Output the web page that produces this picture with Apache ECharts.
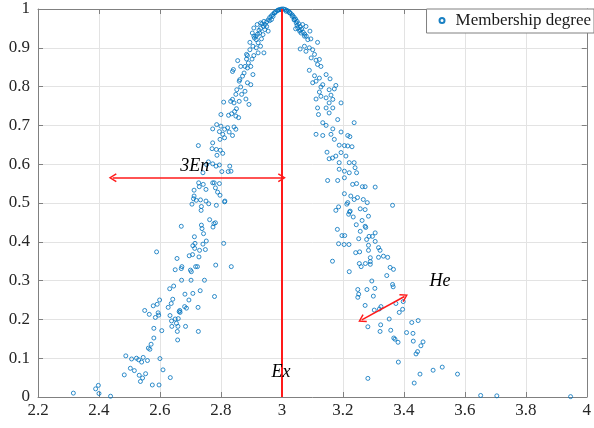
<!DOCTYPE html>
<html>
<head>
<meta charset="utf-8">
<script src="https://cdn.jsdelivr.net/npm/echarts@6/dist/echarts.min.js"></script>
<style>
  html, body { margin: 0; padding: 0; background: #fff; }
  #chart { width: 594px; height: 428px; }
</style>
</head>
<body>
<div id="chart"></div>
<script>
// cloud drops, [x, membership degree]
const lowerLeft = [
  [2.316,0.010],[2.389,0.021],[2.398,0.030],[2.400,0.009],[2.438,0.002],[2.483,0.057],
  [2.488,0.106],[2.503,0.074],[2.507,0.098],[2.516,0.068],[2.523,0.100],[2.530,0.096],
  [2.532,0.056],[2.536,0.040],[2.540,0.090],[2.543,0.049],[2.545,0.102],[2.553,0.060],
  [2.559,0.094],[2.562,0.126],[2.567,0.123],[2.571,0.136],[2.575,0.031],[2.580,0.152],
  [2.580,0.177],[2.550,0.223],[2.565,0.213],[2.578,0.235],[2.585,0.205],[2.589,0.374],
  [2.591,0.239],[2.594,0.217],[2.596,0.211],[2.597,0.031],[2.599,0.250],[2.600,0.099],
  [2.606,0.171],[2.610,0.070],[2.627,0.231],[2.632,0.279],[2.633,0.210],[2.634,0.050],
  [2.637,0.241],[2.638,0.196],[2.639,0.182],[2.642,0.252],[2.645,0.286],[2.650,0.328],
  [2.650,0.201],[2.654,0.190],[2.656,0.357],[2.657,0.169],[2.658,0.147],[2.659,0.182],
  [2.660,0.202],[2.663,0.220],[2.665,0.223],[2.666,0.218],[2.670,0.440],[2.670,0.331],
  [2.671,0.301],[2.672,0.336],[2.681,0.233],[2.682,0.265],[2.684,0.182],[2.687,0.229],
  [2.695,0.250],[2.696,0.364],[2.700,0.327],[2.702,0.301],[2.703,0.323],[2.705,0.497],
  [2.707,0.367],[2.708,0.390],[2.708,0.267],[2.713,0.413],[2.714,0.383],[2.715,0.396],
  [2.717,0.336],[2.719,0.507],[2.723,0.336],[2.725,0.231],[2.726,0.169],[2.728,0.361],
  [2.730,0.378],[2.732,0.274],[2.735,0.481],[2.736,0.491],[2.736,0.443],[2.738,0.434],
  [2.741,0.394],[2.743,0.421],[2.746,0.301],[2.749,0.380],[2.752,0.402],[2.760,0.498],
  [2.763,0.457],[2.774,0.438],[2.777,0.447],[2.782,0.449],[2.783,0.340],[2.779,0.259],
  [2.785,0.494],[2.809,0.396],[2.812,0.503],[2.834,0.336]
];

const upperLeft = [
  [2.726,0.648],[2.727,0.552],[2.712,0.533],[2.712,0.518],[2.729,0.542],[2.742,0.548],
  [2.751,0.535],[2.773,0.552],[2.778,0.552],[2.795,0.550],[2.782,0.539],[2.789,0.528],
  [2.797,0.520],[2.813,0.505],[2.710,0.511],[2.733,0.508],[2.751,0.505],[2.741,0.578],
  [2.753,0.599],[2.759,0.606],[2.773,0.601],[2.784,0.595],[2.795,0.598],[2.803,0.581],
  [2.824,0.581],[2.829,0.595],[2.833,0.582],[2.787,0.623],[2.798,0.636],[2.806,0.628],
  [2.773,0.655],[2.785,0.638],[2.771,0.640],[2.797,0.664],[2.812,0.668],[2.795,0.684],
  [2.806,0.677],[2.822,0.694],[2.827,0.683],[2.838,0.674],[2.843,0.696],[2.849,0.690],
  [2.786,0.702],[2.800,0.698],[2.812,0.690],[2.773,0.691],[2.800,0.728],[2.825,0.726],
  [2.835,0.730],[2.845,0.736],[2.849,0.724],[2.851,0.743],[2.858,0.720],[2.809,0.760],
  [2.832,0.762],[2.838,0.767],[2.843,0.758],[2.860,0.762],[2.892,0.754],[2.882,0.768],
  [2.868,0.780],[2.849,0.780],[2.852,0.792],[2.865,0.799],[2.879,0.788],[2.887,0.810],
  [2.898,0.805],[2.860,0.814],[2.862,0.818],[2.871,0.827],[2.876,0.835],[2.838,0.839],
  [2.841,0.844],[2.887,0.848],[2.898,0.852],[2.905,0.831],[2.879,0.852],[2.890,0.861],
  [2.855,0.867],[2.884,0.871],[2.902,0.871],[2.908,0.880],[2.884,0.883],[2.895,0.895],
  [2.905,0.904],[2.916,0.900],[2.922,0.887],[2.941,0.887],[2.916,0.921],[2.922,0.913],
  [2.933,0.923],[2.938,0.934],[2.927,0.938],[2.944,0.947],[2.950,0.955],[2.955,0.943],
  [2.903,0.938],[2.908,0.951],[2.919,0.960],[2.930,0.964],[2.941,0.968],[2.908,0.930],
  [2.930,0.904],[2.895,0.914],[2.887,0.880],[2.865,0.852]
];

const topCap = [
  [2.910,0.925],[2.915,0.930],[2.920,0.935],[2.925,0.945],[2.930,0.950],[2.935,0.962],
  [2.940,0.955],[2.945,0.960],[2.950,0.967],[2.955,0.972],[2.960,0.978],[2.960,0.970],
  [2.965,0.982],[2.966,0.973],[2.970,0.986],[2.971,0.981],[2.975,0.990],[2.977,0.990],
  [2.980,0.993],[2.985,0.996],[2.988,0.997],[2.990,0.998],[2.995,0.999],[2.998,0.998],
  [3.000,1.000],[3.005,1.000],[3.010,0.999],[3.014,0.994],[3.015,0.997],[3.020,0.995],
  [3.025,0.992],[3.025,0.990],[3.030,0.988],[3.034,0.981],[3.035,0.984],[3.040,0.979],
  [3.040,0.972],[3.041,0.973],[3.045,0.974],[3.047,0.964],[3.050,0.968],[3.050,0.958],
  [3.055,0.962],[3.060,0.955],[3.060,0.946],[3.065,0.948],[3.070,0.940],[3.075,0.935],
  [3.080,0.930]
];

const upperRight = [
  [3.052,0.951],[3.058,0.943],[3.063,0.938],[3.068,0.960],[3.079,0.955],[3.092,0.943],
  [3.045,0.949],[3.074,0.930],[3.085,0.921],[3.095,0.923],[3.117,0.914],[3.060,0.897],
  [3.074,0.904],[3.079,0.891],[3.090,0.900],[3.101,0.895],[3.107,0.883],[3.096,0.874],
  [3.112,0.868],[3.123,0.870],[3.117,0.857],[3.128,0.852],[3.090,0.842],[3.107,0.828],
  [3.123,0.822],[3.145,0.831],[3.158,0.820],[3.101,0.810],[3.112,0.814],[3.128,0.799],
  [3.134,0.805],[3.155,0.792],[3.177,0.803],[3.172,0.794],[3.123,0.786],[3.128,0.775],
  [3.145,0.771],[3.161,0.778],[3.167,0.767],[3.112,0.768],[3.155,0.758],[3.194,0.758],
  [3.117,0.745],[3.145,0.745],[3.167,0.745],[3.120,0.728],[3.155,0.732],[3.183,0.715],
  [3.134,0.707],[3.145,0.700],[3.167,0.691],[3.237,0.707],[3.112,0.677],[3.134,0.674],
  [3.161,0.677],[3.172,0.664],[3.194,0.683],[3.216,0.674],[3.223,0.671],[3.188,0.649],
  [3.205,0.648],[3.216,0.647],[3.230,0.645],[3.148,0.631],[3.194,0.630],[3.210,0.621],
  [3.155,0.614],[3.166,0.616],[3.177,0.621],[3.188,0.604],[3.221,0.604],[3.237,0.604],
  [3.240,0.591],[3.188,0.587],[3.205,0.582],[3.221,0.578],[3.245,0.578],[3.150,0.558],
  [3.183,0.558],[3.205,0.565],[3.232,0.548],[3.245,0.550],[3.264,0.542],[3.273,0.542],
  [3.306,0.541],[3.205,0.524],[3.226,0.518],[3.237,0.509],[3.248,0.514],[3.267,0.509],
  [3.280,0.501],[3.216,0.501]
];

const lowerRight = [
  [3.177,0.481],[3.186,0.490],[3.213,0.497],[3.222,0.477],[3.219,0.471],[3.224,0.479],
  [3.234,0.464],[3.257,0.485],[3.263,0.455],[3.273,0.483],[3.284,0.466],[3.363,0.494],
  [3.182,0.432],[3.197,0.416],[3.206,0.416],[3.186,0.395],[3.204,0.393],[3.220,0.393],
  [3.244,0.444],[3.257,0.427],[3.273,0.440],[3.275,0.437],[3.252,0.408],[3.278,0.406],
  [3.286,0.414],[3.297,0.414],[3.306,0.423],[3.306,0.401],[3.284,0.391],[3.284,0.378],
  [3.242,0.372],[3.255,0.374],[3.317,0.385],[3.322,0.378],[3.333,0.363],[3.317,0.360],
  [3.290,0.359],[3.290,0.349],[3.274,0.344],[3.254,0.344],[3.260,0.336],[3.290,0.342],
  [3.347,0.360],[3.166,0.350],[3.355,0.334],[3.366,0.329],[3.221,0.323],[3.344,0.313],
  [3.295,0.299],[3.363,0.290],[3.365,0.284],[3.249,0.277],[3.279,0.277],[3.305,0.280],
  [3.252,0.265],[3.249,0.257],[3.300,0.260],[3.273,0.236],[3.325,0.233],[3.303,0.224],
  [3.320,0.227],[3.374,0.241],[3.398,0.246],[3.396,0.226],[3.385,0.218],[3.352,0.201],
  [3.447,0.197],[3.426,0.192],[3.282,0.181],[3.324,0.186],[3.322,0.169],[3.357,0.172],
  [3.409,0.166],[3.430,0.164],[3.367,0.152],[3.371,0.149],[3.381,0.141],[3.431,0.144],
  [3.463,0.142],[3.456,0.132],[3.445,0.117],[3.440,0.111],[3.382,0.090],[3.496,0.069],
  [3.526,0.077],[3.453,0.059],[3.576,0.059],[3.282,0.048],[3.434,0.036],[3.652,0.004],
  [3.705,0.003],[3.947,0.001]
];

const xTicks = { min: 2.2, max: 4, step: 0.2 };
const yTicks = { min: 0, max: 1, step: 0.1 };

// annotation anchors
const exValue = 3;
const enArrow = [[2.445, 0.565], [3, 0.565]];
const heArrow = [[3.262, 0.199], [3.402, 0.259]];
const notes = [
  { text: "3En", at: [2.714, 0.595] },
  { text: "Ex", at: [2.997, 0.064] },
  { text: "He", at: [3.519, 0.297] }
];

const BLUE = "#0072BD";
const RED = "#ff1a1a";
const AXIS = "#808080";
const GRID = "#e3e3e3";
const FONT = "Liberation Serif";
const CHEVRON = "path://M5,0 L10,9 L8.6,10 L5,3.2 L1.4,10 L0,9 Z";

const allPoints = lowerLeft.concat(upperLeft, topCap, upperRight, lowerRight);

const chart = echarts.init(document.getElementById("chart"), null, { renderer: "canvas" });

function boxAxis(range, pos, labels) {
  return {
    type: "value",
    position: pos,
    min: range.min,
    max: range.max,
    interval: range.step,
    axisLine: { show: true, onZero: false, lineStyle: { color: AXIS, width: 1 } },
    axisTick: { show: true, inside: true, length: 5, lineStyle: { color: AXIS } },
    splitLine: { show: labels, lineStyle: { color: GRID, width: 1 } },
    axisLabel: {
      show: labels,
      color: "#262626",
      fontFamily: FONT,
      fontSize: 17
    }
  };
}

const xBottom = boxAxis(xTicks, "bottom", true);
xBottom.axisLabel.margin = 5;
const xTop = boxAxis(xTicks, "top", false);
const yLeft = boxAxis(yTicks, "left", true);
yLeft.axisLabel.margin = 8;
const yRight = boxAxis(yTicks, "right", false);

const option = {
  animation: false,
  backgroundColor: "#fff",
  grid: { left: 38, right: 6, top: 9, bottom: 31 },
  xAxis: [xBottom, xTop],
  yAxis: [yLeft, yRight],
  legend: {
    right: 0,
    top: 9,
    itemWidth: 5,
    itemHeight: 5,
    itemGap: 0,
    padding: [3, 3, 4, 12],
    backgroundColor: "#fff",
    borderColor: AXIS,
    borderWidth: 1,
    textStyle: { fontFamily: FONT, fontSize: 17, color: "#1a1a1a", padding: [0, 0, 0, 6] },
    data: ["Membership degree"]
  },
  series: [
    {
      name: "Membership degree",
      type: "scatter",
      symbol: "circle",
      symbolSize: 4,
      data: allPoints,
      itemStyle: { color: "rgba(0,0,0,0)", borderColor: BLUE, borderWidth: 0.9, opacity: 0.9 },
      markLine: {
        silent: true,
        animation: false,
        label: { show: false },
        emphasis: { disabled: true },
        data: [
          [
            { coord: [exValue, 0], symbol: "none", lineStyle: { color: RED, width: 2, type: "solid" } },
            { coord: [exValue, 1], symbol: "none" }
          ],
          [
            { coord: enArrow[0], symbol: CHEVRON, symbolSize: [9, 8], lineStyle: { color: RED, width: 1.5, type: "solid" } },
            { coord: enArrow[1], symbol: CHEVRON, symbolSize: [9, 8] }
          ],
          [
            { coord: heArrow[0], symbol: CHEVRON, symbolSize: [9, 8], lineStyle: { color: RED, width: 1.5, type: "solid" } },
            { coord: heArrow[1], symbol: CHEVRON, symbolSize: [9, 8] }
          ]
        ]
      },
      markPoint: {
        silent: true,
        animation: false,
        symbol: "circle",
        symbolSize: 0,
        data: notes.map(n => ({
          coord: n.at,
          label: {
            show: true,
            position: "inside",
            formatter: n.text,
            fontFamily: FONT,
            fontStyle: "italic",
            fontSize: 18,
            color: "#000"
          }
        }))
      }
    }
  ]
};

chart.setOption(option);
</script>
</body>
</html>
